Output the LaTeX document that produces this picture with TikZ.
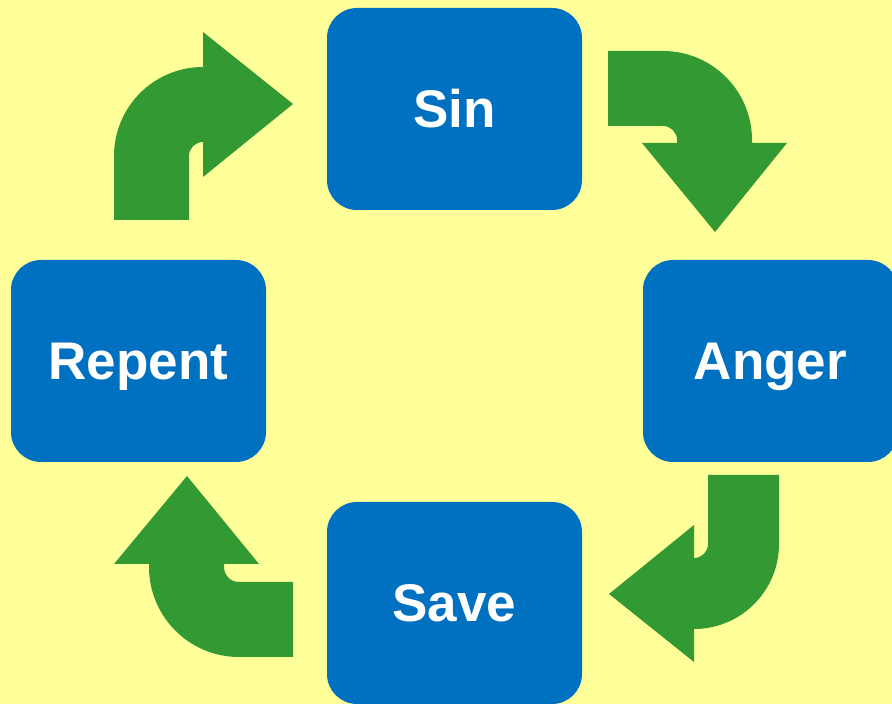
\documentclass[tikz,border=0pt]{standalone}
\usepackage{fontspec}
\setmainfont{Liberation Sans}
\definecolor{bgyellow}{HTML}{FFFF99}
\definecolor{boxblue}{HTML}{0070C0}
\definecolor{arrowgreen}{HTML}{339933}
\begin{document}
\begin{tikzpicture}[x=1pt,y=1pt,
  stagebox/.style={rectangle, rounded corners=30pt, fill=boxblue, draw=none,
    minimum width=255pt, minimum height=202pt, inner sep=0pt,
    text height=38pt, text depth=0pt,
    text=white, font=\fontsize{53}{60}\selectfont\bfseries},
  bentarrow/.style={fill=arrowgreen, draw=none}]
\useasboundingbox (0,0) rectangle (892,704);
\fill[bgyellow] (0,0) rectangle (892,704);

\node[stagebox] (sin) at (454.5,595) {Sin};
\node[stagebox] (anger) at (770.5,343) {Anger};
\node[stagebox] (repent) at (138.5,343) {Repent};
\node[stagebox] (save) at (454.5,101) {Save};

% top-left arrow (Repent -> Sin)
\fill[bentarrow] (114,484) -- (114,548) arc[start angle=180, end angle=90, radius=89]
  -- (203,672) -- (293,600) -- (203,527) -- (203,562)
  arc[start angle=90, end angle=180, radius=14] -- (189,484) -- cycle;

% top-right arrow (Sin -> Anger)
\fill[bentarrow] (608,653) -- (663,653) arc[start angle=90, end angle=0, radius=89]
  -- (752,561) -- (787,561) -- (715,472) -- (642,561) -- (677,561) -- (677,564)
  arc[start angle=0, end angle=90, radius=14] -- (608,578) -- cycle;

% bottom-right arrow (Anger -> Save)
\fill[bentarrow] (779,229) -- (779,160) arc[start angle=0, end angle=-90, radius=85]
  -- (694,42) -- (609,110) -- (694,179) -- (694,146)
  arc[start angle=-90, end angle=0, radius=14] -- (708,229) -- cycle;

% bottom-left arrow (Save -> Repent)
\fill[bentarrow] (293,47) -- (239,47) arc[start angle=-90, end angle=-180, radius=90]
  -- (149,140) -- (114,140) -- (187,228) -- (259,140) -- (224,140) -- (224,137)
  arc[start angle=180, end angle=270, radius=15] -- (293,122) -- cycle;
\end{tikzpicture}
\end{document}
